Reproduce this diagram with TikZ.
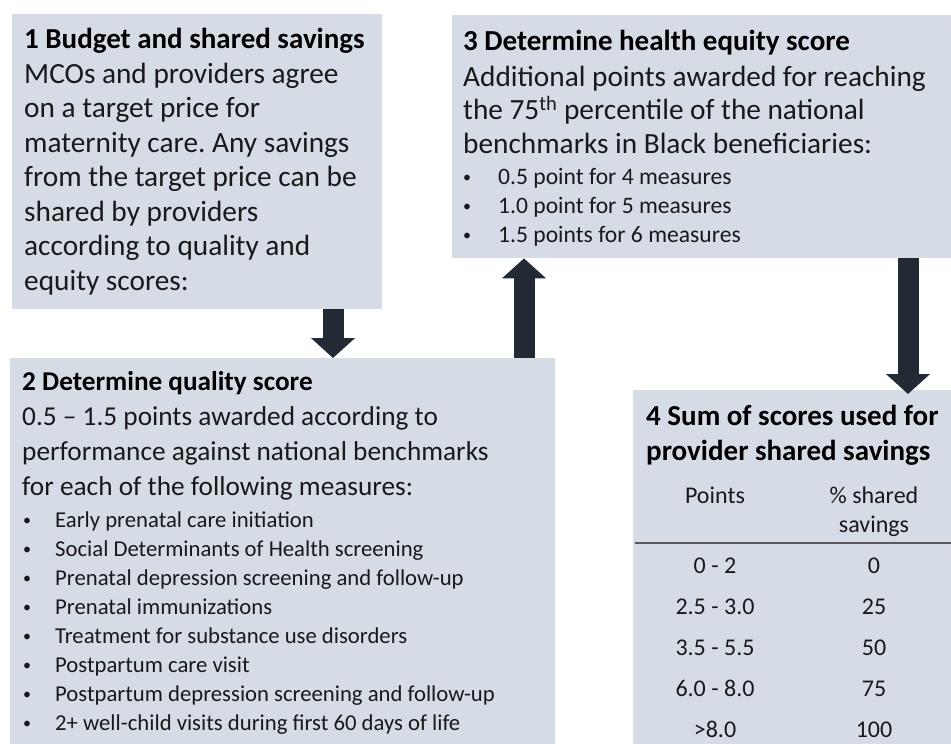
\documentclass[tikz,border=0pt]{standalone}
\usepackage{fontspec}
\setmainfont{Carlito}
\usetikzlibrary{arrows.meta}
\definecolor{boxfill}{HTML}{D6DCE5}
\definecolor{arrowdark}{HTML}{222A35}
\definecolor{rulegray}{HTML}{595959}
\frenchspacing
\begin{document}
\begin{tikzpicture}[x=1pt, y=-1pt, line join=round,
	box/.style={fill=boxfill, inner sep=0pt, anchor=north west},
	head/.style={anchor=base west, inner sep=0pt, font=\fontsize{29}{34}\selectfont\bfseries},
	body/.style={anchor=base west, inner sep=0pt, text=black!90, font=\fontsize{29.3}{34}\selectfont},
	item/.style={anchor=base west, inner sep=0pt, text=black!90, font=\fontsize{23.6}{28}\selectfont},
	dot/.style={anchor=base west, inner sep=0pt, text=black!90, font=\fontsize{16}{28}\selectfont},
	cell/.style={anchor=base, inner sep=0pt, text=black!90, font=\fontsize{24}{28}\selectfont},
	bigarrow/.style={arrowdark, line width=21pt, -{Triangle[width=43pt,length=20pt]}}]
	\useasboundingbox (0,0) rectangle (951,744);
	% boxes
	\node[box, minimum width=370pt, minimum height=295pt] (box1) at (12,14) {};
	\node[box, minimum width=520pt, minimum height=243pt] (box3) at (452,15) {};
	\node[box, minimum width=545pt, minimum height=400pt] (box2) at (10,358) {};
	\node[box, minimum width=330pt, minimum height=370pt] (box4) at (633,390) {};
	% 1
	\node[head] (h1) at (24,48) {1 Budget and shared savings};
	\foreach \t [count=\i] in {{MCOs and providers agree},{on a target price for},{maternity care. Any savings},
		{from the target price can be},{shared by providers},{according to quality and},{equity scores:}}
	\node[body] (t1\i) at (24,{83+34.5*(\i-1)}) {\t};
	% 3
	\node[head] (h3) at (463,50) {3 Determine health equity score};
	\foreach \t [count=\i] in {{Additional points awarded for reaching},
		{the 75\textsuperscript{th} percentile of the national},{benchmarks in Black beneficiaries:}}
	\node[body] (t3\i) at (463,{86+33.5*(\i-1)}) {\t};
	\foreach \t [count=\i] in {{0.5 point for 4 measures},{1.0 point for 5 measures},{1.5 points for 6 measures}}{
		\node[dot] (d3\i) at (463,{182+29*(\i-1)}) {\textbullet};
		\node[item] (p3\i) at (498,{184+29*(\i-1)}) {\t};
	}
	% 2
	\begin{scope}[head/.append style={font=\fontsize{27.2}{34}\selectfont\bfseries},
		body/.append style={font=\fontsize{27.3}{34}\selectfont},
		item/.append style={font=\fontsize{22.7}{28}\selectfont}]
	\node[head] (h2) at (22,390) {2 Determine quality score};
	\foreach \t [count=\i] in {{0.5 -- 1.5 points awarded according to},
		{performance against national benchmarks},{for each of the following measures:}}
	\node[body] (t2\i) at (22,{425+35*(\i-1)}) {\t};
	\foreach \t [count=\i] in {{Early prenatal care initiation},{Social Determinants of Health screening},
		{Prenatal depression screening and follow-up},{Prenatal immunizations},
		{Treatment for substance use disorders},{Postpartum care visit},
		{Postpartum depression screening and follow-up},{2+ well-child visits during first 60 days of life}}{
		\node[dot] (d2\i) at (23,{525+29*(\i-1)}) {\textbullet};
		\node[item] (p2\i) at (55,{527+29*(\i-1)}) {\t};
	}
	\end{scope}
	% 4
	\node[head] (h4a) at (646,425) {4 Sum of scores used for};
	\node[head] (h4b) at (646,460) {provider shared savings};
	\node[cell] (c1) at (715,503) {Points};
	\node[cell] (c2) at (874,503) {\% shared};
	\node[cell] (c3) at (874,532) {savings};
	\coordinate (rl) at (635,543);
	\draw[rulegray, line width=2pt] (rl) -- (rl -| box4.east);
	\foreach \p/\s [count=\i] in {0 - 2/0, 2.5 - 3.0/25, 3.5 - 5.5/50, 6.0 - 8.0/75, >8.0/100}{
		\node[cell] (r\i) at (715,{573+41*(\i-1)}) {\p};
		\node[cell] (s\i) at (874,{573+41*(\i-1)}) {\s};
	}
	% arrows
	\coordinate (a12) at (333,0);
	\coordinate (a23) at (524,0);
	\coordinate (a34) at (908,0);
	\draw[bigarrow] (box1.south -| a12) -- (box2.north -| a12);
	\draw[bigarrow] (box2.north -| a23) -- (box3.south -| a23);
	\draw[bigarrow] (box3.south -| a34) -- ([yshift=-4pt]box4.north -| a34);
\end{tikzpicture}
\end{document}
